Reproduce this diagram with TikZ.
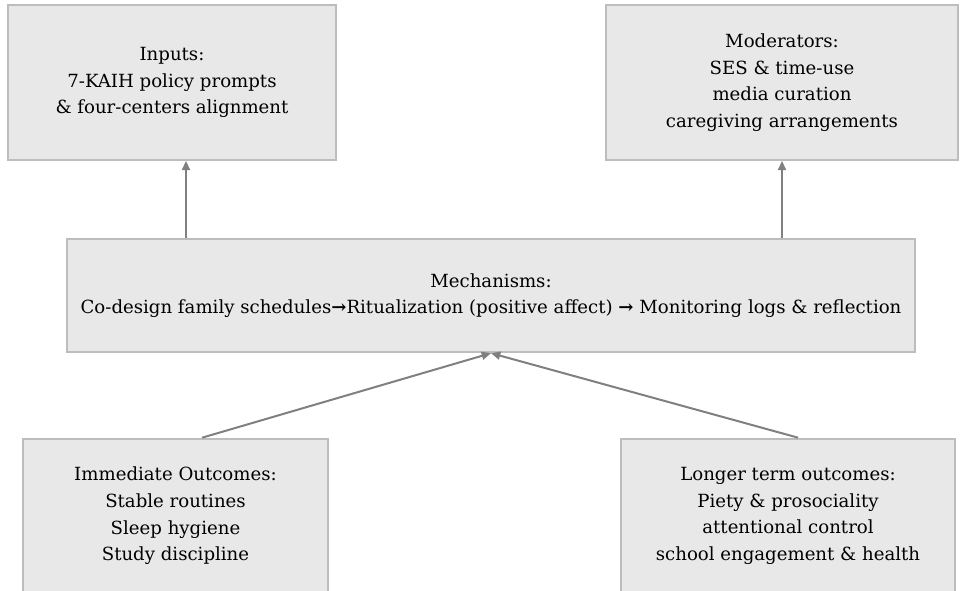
\documentclass[tikz,border=0pt]{standalone}
\usepackage{fontspec}
\setmainfont{DejaVu Serif}
\usetikzlibrary{arrows.meta,positioning,shapes}
\definecolor{boxfill}{HTML}{E8E8E8}
\definecolor{boxline}{HTML}{BDBDBD}
\definecolor{arrline}{HTML}{808080}

\begin{document}
\begin{tikzpicture}[x=0.75pt,y=-0.75pt,
  box/.style={draw=boxline,line width=1.5pt,fill=boxfill,align=center,
    font=\fontsize{13.6}{20}\selectfont,text=black,inner sep=0pt},
  arr/.style={-{Triangle[length=7pt,width=6pt]},draw=arrline,line width=1.5pt}]
\useasboundingbox (0,0) rectangle (964,591);
\node[box,minimum width=246pt,minimum height=116pt] (inputs) at (172,82.5) {Inputs:\\7-KAIH policy prompts\\\& four-centers alignment};
\node[box,minimum width=264pt,minimum height=116pt] (mod) at (782,82.5) {Moderators:\\SES \& time-use\\media curation\\caregiving arrangements};
\node[box,minimum width=636pt,minimum height=85pt] (mech) at (491,295.5) {Mechanisms:\\Co-design family schedules{\bfseries →}Ritualization (positive affect) {\bfseries →} Monitoring logs \& reflection};
\node[box,minimum width=229pt,minimum height=116pt] (immed) at (175.5,516) {Immediate Outcomes:\\Stable routines\\Sleep hygiene\\Study discipline};
\node[box,minimum width=250pt,minimum height=116pt] (longer) at (788,516) {Longer term outcomes:\\Piety \& prosociality\\attentional control\\school engagement \& health};
\draw[arr] ([xshift=10.5pt]inputs.south |- mech.north) -- ([xshift=10.5pt]inputs.south);
\draw[arr] (mod.south |- mech.north) -- (mod.south);
\draw[arr] ([xshift=20pt]immed.north) -- (mech.south);
\draw[arr] ([xshift=7.5pt]longer.north) -- (mech.south);
\end{tikzpicture}
\end{document}
